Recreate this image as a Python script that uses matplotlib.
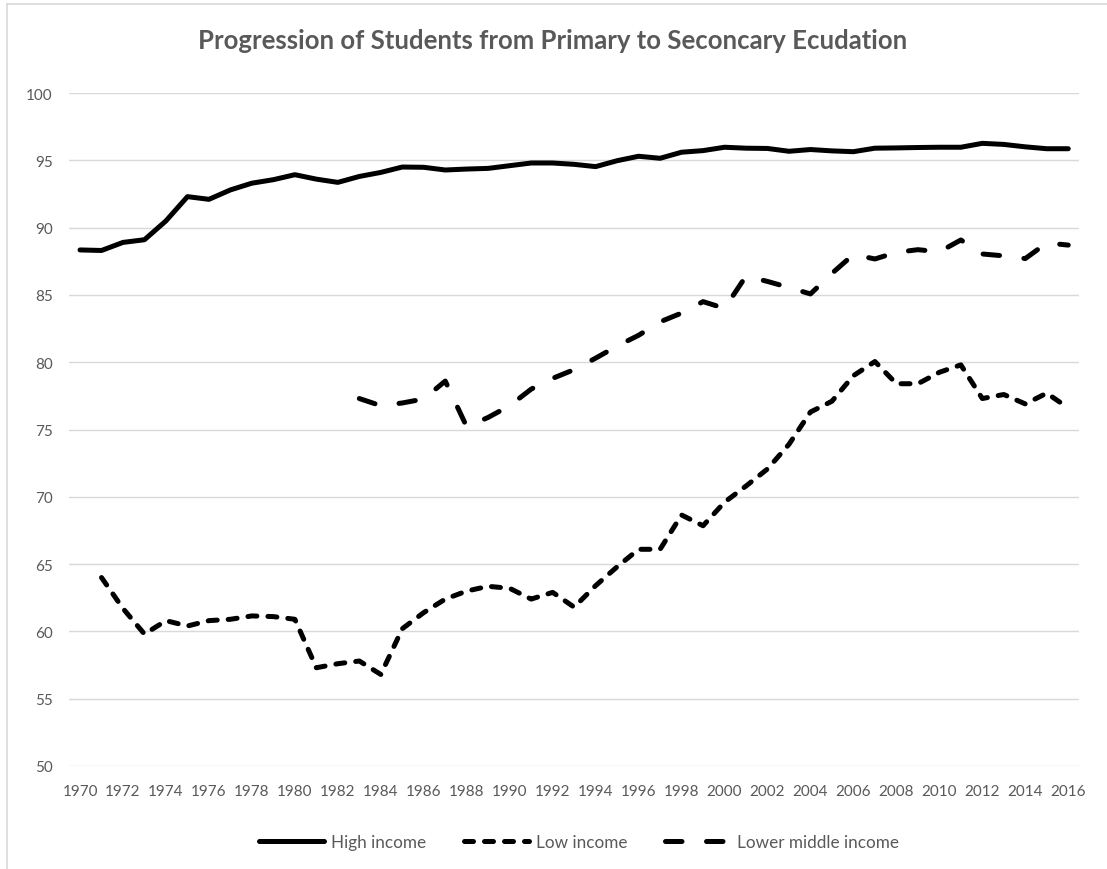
"""Progression of students from primary to secondary education, by income group."""

import numpy as np
import matplotlib

matplotlib.use("Agg")
import matplotlib.pyplot as plt
from matplotlib.lines import Line2D

plt.rcParams["font.family"] = ["Lato", "DejaVu Sans"]

TITLE = "Progression of Students from Primary to Seconcary Ecudation"

years = list(range(1970, 2017))
nan = np.nan

high_income = [
    88.34, 88.3, 88.9, 89.1, 90.5, 92.3, 92.1, 92.8, 93.3, 93.56,
    93.93, 93.6, 93.36, 93.8, 94.1, 94.5, 94.48, 94.28, 94.35, 94.4,
    94.6, 94.8, 94.8, 94.7, 94.53, 94.97, 95.3, 95.15, 95.6, 95.72,
    95.97, 95.9, 95.88, 95.67, 95.8, 95.7, 95.64, 95.9, 95.92, 95.95,
    95.97, 95.97, 96.26, 96.18, 96.0, 95.86, 95.86,
]
low_income = [
    nan, 64.0, 61.7, 59.8, 60.8, 60.4, 60.8, 60.9, 61.15, 61.1,
    60.9, 57.3, 57.6, 57.8, 56.8, 60.2, 61.4, 62.4, 63.0, 63.35,
    63.2, 62.4, 62.9, 61.8, 63.4, 64.8, 66.1, 66.1, 68.65, 67.85,
    69.6, 70.8, 72.07, 73.9, 76.3, 77.1, 79.0, 80.05, 78.4, 78.4,
    79.25, 79.8, 77.3, 77.6, 76.9, 77.7, 76.6,
]
lower_middle_income = [
    nan, nan, nan, nan, nan, nan, nan, nan, nan, nan,
    nan, nan, nan, 77.3, 76.77, 76.97, 77.27, 78.6, 75.2, 75.9,
    76.77, 78.0, 78.8, 79.45, 80.3, 81.2, 82.0, 83.0, 83.65, 84.5,
    84.0, 86.4, 86.0, 85.55, 85.07, 86.6, 88.0, 87.67, 88.16, 88.36,
    88.2, 89.08, 88.04, 87.9, 87.7, 88.86, 88.7,
]

SERIES = [
    ("High income", high_income, "-"),
    ("Low income", low_income, (0, (1.8, 2.2))),
    ("Lower middle income", lower_middle_income, (0, (3.3, 4.9))),
]

TEXT = "#595959"
GRID = "#D9D9D9"
W, H = 1107, 870


def main():
    fig = plt.figure(figsize=(W / 100, H / 100), dpi=100)
    ax = fig.add_axes([69.3 / W, 1 - 767 / H, (1079 - 69.3) / W, (767 - 94) / H])

    x = np.arange(len(years))
    for label, values, style in SERIES:
        ax.plot(
            x,
            np.array(values, dtype=float),
            color="black",
            linewidth=3.6,
            linestyle=style,
            solid_capstyle="round",
            dash_capstyle="round",
            solid_joinstyle="round",
            label=label,
        )

    ax.set_xlim(-0.5, len(years) - 0.5)
    ax.set_ylim(50, 100)
    ax.set_yticks(range(50, 101, 5))
    ax.set_xticks(x[::2])
    ax.set_xticklabels([str(y) for y in years[::2]])
    ax.tick_params(length=0, labelsize=11, labelcolor=TEXT)
    ax.tick_params(axis="y", pad=12)
    ax.tick_params(axis="x", pad=13)
    ax.grid(axis="y", color=GRID, linewidth=1.0)
    ax.set_axisbelow(True)
    for spine in ax.spines.values():
        spine.set_visible(False)

    fig.text(
        553 / W, 1 - 41 / H, TITLE,
        ha="center", va="center", fontsize=18.5, fontweight="bold", color=TEXT,
    )

    fig.legend(
        loc="center",
        bbox_to_anchor=(579 / W, 1 - 843 / H),
        ncol=3,
        frameon=False,
        fontsize=12.3,
        labelcolor=TEXT,
        handlelength=3.8,
        handletextpad=0.4,
        columnspacing=2.2,
    )

    # chart area border (only left and top edges are inside the crop)
    fig.add_artist(Line2D([6.5 / W, 6.5 / W], [0, 1 - 4.5 / H], color=GRID, linewidth=1.2))
    fig.add_artist(Line2D([6.5 / W, 1], [1 - 4.5 / H, 1 - 4.5 / H], color=GRID, linewidth=1.2))

    fig.savefig("out.png", dpi=100, facecolor="white")


if __name__ == "__main__":
    main()
